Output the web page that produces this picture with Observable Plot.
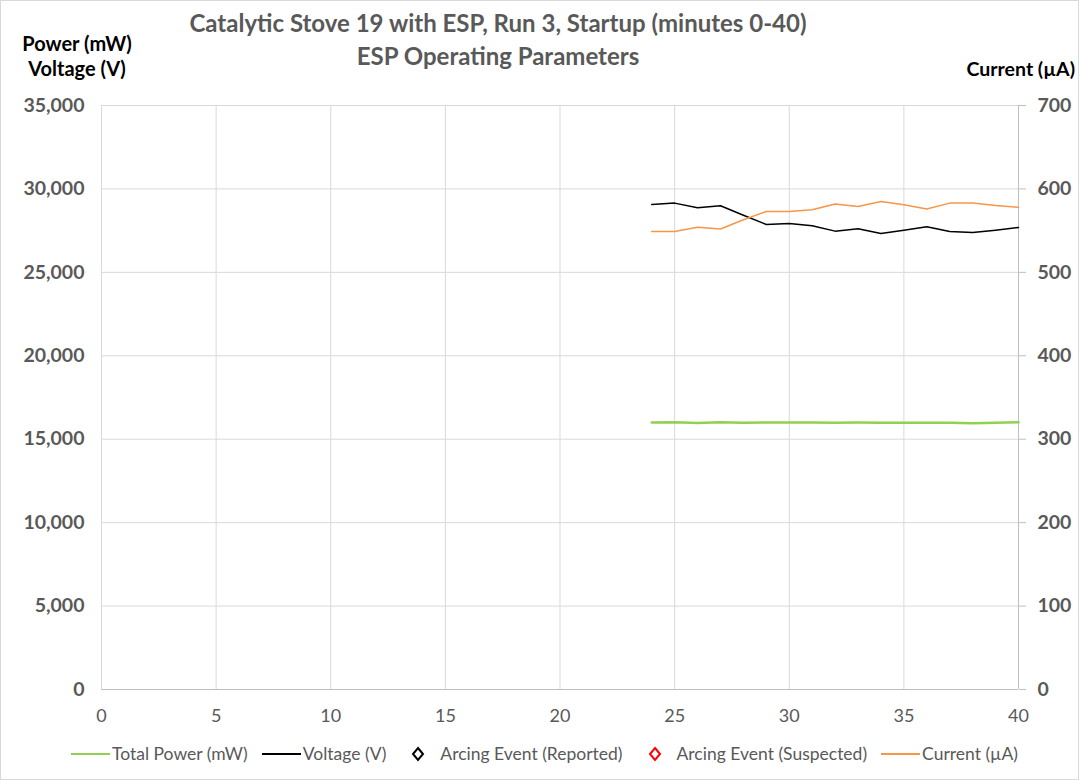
<!DOCTYPE html>
<html>
<head>
<meta charset="utf-8">
<script src="https://cdn.jsdelivr.net/npm/d3@7"></script>
<script src="https://cdn.jsdelivr.net/npm/@observablehq/plot@0.6"></script>
<style>
  html, body { margin: 0; padding: 0; background: #fff; }
  #wrap { position: relative; width: 1079px; height: 780px; font-family: Lato, "Open Sans", sans-serif; color: #595959; overflow: hidden; }
  #border { position: absolute; left: 0; top: 0; width: 1077px; height: 778px; border: 1px solid #d9d9d9; pointer-events: none; }
  .t { position: absolute; white-space: nowrap; }
  #title { left: 0; width: 996px; top: 6px; text-align: center; font-size: 24px; font-weight: bold; line-height: 33px; }
  #ylab { left: 9px; width: 136px; top: 31px; text-align: center; font-size: 20px; font-weight: bold; line-height: 25px; color: #000; }
  #y2lab { right: 4px; top: 57px; font-size: 19.5px; font-weight: bold; color: #000; }
  #legend { position: absolute; left: 0; top: 743px; width: 1079px; display: flex; justify-content: center; align-items: center; font-size: 17.5px; color: #595959; padding-left: 10px; box-sizing: border-box; }
  .li { display: flex; align-items: center; margin: 0 7px; }
  svg { overflow: visible; }
</style>
</head>
<body>
<div id="wrap">
  <div id="chart"></div>
  <div class="t" id="title">Catalytic Stove 19 with ESP, Run 3, Startup (minutes 0-40)<br>ESP Operating Parameters</div>
  <div class="t" id="ylab">Power (mW)<br>Voltage (V)</div>
  <div class="t" id="y2lab">Current (µA)</div>
  <div id="legend"></div>
  <div id="border"></div>
</div>
<script>
// ---- Data ----
const minutes = [24, 25, 26, 27, 28, 29, 30, 31, 32, 33, 34, 35, 36, 37, 38, 39, 40];
const totalPower = [16000, 16020, 15970, 16010, 15990, 16000, 16000, 16000, 15990, 16000, 15990, 15980, 15990, 15990, 15960, 15990, 16010];
const voltage = [29070, 29150, 28870, 28990, 28420, 27870, 27930, 27790, 27470, 27610, 27330, 27530, 27730, 27450, 27390, 27530, 27690];
const current = [549, 549, 554, 552, 563, 573, 573, 575, 582, 579, 585, 581, 576, 583, 583, 580, 578];
const arcingReported = [];
const arcingSuspected = [];
const xTicks = [0, 5, 10, 15, 20, 25, 30, 35, 40];
const yTicks = [0, 5000, 10000, 15000, 20000, 25000, 30000, 35000];
const y2Max = 700; // right axis max (µA)
const yMax = 35000;
const ratio = yMax / y2Max;

const seriesNames = ["Total Power (mW)", "Voltage (V)", "Arcing Event (Reported)", "Arcing Event (Suspected)", "Current (µA)"];
const seriesColors = ["#92d050", "#000000", "#000000", "#ff0000", "#f79646"];

const rows = minutes.map((m, i) => ({minute: m, power: totalPower[i], voltage: voltage[i], current: current[i]}));

const chart = Plot.plot({
  width: 1079,
  height: 780,
  marginLeft: 101,
  marginRight: 61,
  marginTop: 105,
  marginBottom: 91,
  style: {fontFamily: "Lato, 'Open Sans', sans-serif", background: "transparent"},
  x: {domain: [0, 40]},
  y: {domain: [0, yMax]},
  marks: [
    Plot.gridY(yTicks, {stroke: "#d9d9d9", strokeOpacity: 1}),
    Plot.gridX(xTicks, {stroke: "#d9d9d9", strokeOpacity: 1}),
    Plot.ruleY([0], {stroke: "#bfbfbf"}),
    Plot.ruleX([40], {stroke: "#bfbfbf"}),
    Plot.axisY(yTicks, {anchor: "left", tickSize: 0, tickPadding: 17, tickFormat: d3.format(","), fontSize: 19.5, fontWeight: "bold", fill: "#595959", label: null}),
    Plot.axisY(yTicks, {anchor: "right", tickSize: 7, tickPadding: 12, stroke: "#bfbfbf", tickFormat: d => String(d / ratio), fontSize: 19.5, fontWeight: "bold", fill: "#595959", label: null}),
    Plot.axisX(xTicks, {anchor: "bottom", tickSize: 0, tickPadding: 20, fontSize: 18, fill: "#595959", label: null}),
    Plot.line(rows, {x: "minute", y: "power", stroke: seriesColors[0], strokeWidth: 2.5}),
    Plot.line(rows, {x: "minute", y: "voltage", stroke: seriesColors[1], strokeWidth: 1.5}),
    Plot.dot(arcingReported, {x: "minute", y: "voltage", symbol: "diamond", stroke: seriesColors[2]}),
    Plot.dot(arcingSuspected, {x: "minute", y: "voltage", symbol: "diamond", stroke: seriesColors[3]}),
    Plot.line(rows, {x: "minute", y: d => d.current * ratio, stroke: seriesColors[4], strokeWidth: 1.5})
  ]
});
chart.style.position = "absolute";
chart.style.left = "0";
chart.style.top = "0";
document.getElementById("chart").appendChild(chart);

// Legend
const legend = document.getElementById("legend");
seriesNames.forEach((name, i) => {
  const item = document.createElement("div");
  item.className = "li";
  const isMarker = i === 2 || i === 3;
  const sw = isMarker
    ? `<svg width="36" height="16" style="margin-right:4px"><path d="M18,2 L23,8 L18,14 L13,8 Z" fill="none" stroke="${seriesColors[i]}" stroke-width="2"/></svg>`
    : `<svg width="39" height="14" style="margin-right:2px"><line x1="0" y1="7" x2="39" y2="7" stroke="${seriesColors[i]}" stroke-width="2"/></svg>`;
  item.innerHTML = sw + `<span>${name}</span>`;
  legend.appendChild(item);
});
</script>
</body>
</html>
